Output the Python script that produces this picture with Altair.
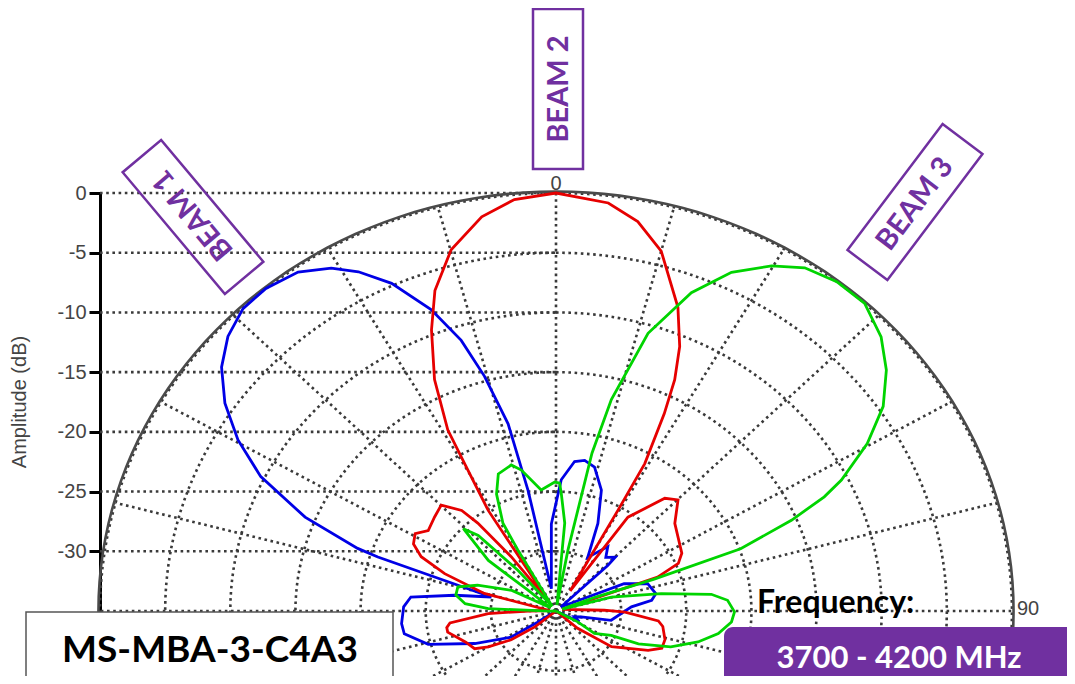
import altair as alt
import numpy as np
import pandas as pd

# ---------------- data ----------------
beam_names = ["BEAM 1", "BEAM 2", "BEAM 3"]
beam_colors = ["#0000e6", "#e60000", "#00d400"]

# angle in degrees (0 = boresight, positive clockwise), amplitude in dB
beam1_angle = [-180, -140, -123.7, -122.4, -113.6, -105.9, -99.3, -95.1, -88.3, -84.0,
               -80.4, -76.7, -71.7, -71.0, -67.8, -63.6, -59.6, -55.6, -51.5, -47.6,
               -43.5, -39.5, -34.9, -31.0, -28.1, -24.7, -20.8, -17.8, -15.6, -13.2,
               -12.0, -10.8, -2.8, 2.1, 6.5, 9.9, 13.8, 19.0, 23.7, 28.5,
               36.4, 40.4, 45.3, 46.2, 48.0, 66.4, 71.9, 79.3, 83.0, 86.6,
               100.4, 104.5, 109.0, 116.8, 125.0, 180]
beam1_db = [-35, -35, -33.3, -30.9, -28.2, -24.8, -23.2, -23.1, -23.3, -23.8,
            -27.1, -29.9, -20.6, -18.9, -14.2, -9.7, -6.7, -4.2, -2.2, -0.9,
            -0.1, 0.0, -0.4, -1.5, -2.8, -4.8, -8.0, -11.2, -14.6, -18.9,
            -24.7, -33.1, -27.7, -24.0, -22.4, -22.2, -22.6, -24.3, -27.0, -29.9,
            -28.3, -29.1, -28.6, -29.5, -34.5, -29.3, -27.6, -27.2, -27.6, -29.2,
            -30.7, -33.0, -33.5, -33.0, -35, -35]

beam2_angle = [-180, -140, -129.4, -125.0, -120.0, -116.8, -110.7, -102.0, -99.4, -97.0,
               -92.4, -90.0, -85.0, -75.0, -69.9, -66.3, -62.8, -59.1, -55.5, -49.8,
               -44.8, -40.7, -39.2, -37.1, -35.0, -31.7, -29.6, -28.7, -25.7, -22.1,
               -19.1, -14.9, -9.8, -5.3, 0.0, 6.7, 10.9, 15.0, 20.2, 23.2,
               25.2, 26.7, 28.9, 29.4, 33.0, 35.1, 41.5, 45.2, 51.2, 63.4,
               67.0, 70.0, 74.0, 89.0, 91.0, 96.0, 99.0, 106.0, 111.0, 115.0,
               125.0, 131.0, 140.0, 180]
beam2_db = [-35, -35, -32.9, -30.8, -29.0, -28.0, -27.6, -26.5, -26.5, -26.8,
            -29.8, -32.9, -34.5, -29.3, -25.9, -23.7, -22.7, -22.4, -23.1, -22.8,
            -22.5, -23.9, -25.5, -29.3, -34.0, -25.1, -20.8, -17.7, -13.5, -9.6,
            -6.6, -3.7, -1.5, -0.4, 0.0, -0.6, -1.8, -3.8, -7.9, -10.9,
            -13.6, -16.5, -20.9, -25.3, -33.0, -25.4, -22.4, -21.8, -23.3, -24.2,
            -24.8, -26.7, -34.5, -31.3, -29.7, -27.1, -26.7, -26.3, -26.3, -27.2,
            -29.8, -32.8, -35, -35]

beam3_angle = [-180, -92.0, -87.8, -85.0, -80.2, -75.0, -70.3, -63.1, -58.0, -51.0,
               -50.8, -45.9, -43.3, -40.6, -36.0, -29.8, -29.0, -25.0, -21.1, -15.7,
               -12.7, -6.4, -0.5, 1.5, 2.4, 5.2, 8.5, 10.2, 11.8, 13.5,
               16.9, 21.3, 25.4, 29.8, 33.6, 38.0, 42.6, 47.4, 51.5, 55.7,
               59.6, 63.4, 65.1, 67.2, 69.8, 70.5, 69.0, 72.0, 74.6, 79.8,
               83.3, 86.1, 90.3, 93.9, 98.6, 103.4, 108.8, 113.5, 115.7, 122.5,
               118.6, 130.0, 180]
beam3_db = [-35, -34.5, -29.8, -28.0, -27.2, -27.2, -28.6, -31.2, -34.5, -32.2,
            -28.3, -25.1, -26.3, -30.5, -34.5, -29.1, -26.6, -24.2, -22.7, -22.3,
            -22.9, -24.8, -24.2, -24.3, -25.2, -27.6, -34.5, -29.8, -21.5, -16.8,
            -10.7, -6.4, -3.6, -1.7, -0.5, 0.0, 0.0, -1.1, -2.6, -4.6,
            -7.3, -10.5, -12.3, -15.4, -19.9, -27.0, -31.8, -34.5, -30.6, -26.8,
            -23.0, -21.8, -21.3, -21.5, -22.4, -23.8, -25.7, -28.1, -30.3, -31.5,
            -33.1, -35, -35]

radial_ticks = [-30, -25, -20, -15, -10, -5, 0]
ring_levels = [-30, -25, -20, -15, -10, -5, 0]
spoke_angles = list(range(0, 360, 15))
angle_label_text = ["0", "90"]
angle_label_pos = [0, 90]

y_title = "Amplitude (dB)"
product_name = "MS-MBA-3-C4A3"
freq_title = "Frequency:"
freq_range = "3700 - 4200 MHz"

PURPLE = "#7030A0"
GRID = "#3a3a3a"

# ---------------- tables ----------------
frames = []
for name, ang, db in zip(beam_names, [beam1_angle, beam2_angle, beam3_angle],
                         [beam1_db, beam2_db, beam3_db]):
    assert len(ang) == len(db)
    frames.append(pd.DataFrame({"beam": name, "angle": ang, "db": db,
                                "order": range(len(ang))}))
curves = pd.concat(frames, ignore_index=True)

ring_angles = np.arange(0, 362, 2)
rings = pd.concat([pd.DataFrame({"ring": lvl, "angle": ring_angles, "db": lvl,
                                 "order": range(len(ring_angles))})
                   for lvl in ring_levels], ignore_index=True)
outer = pd.DataFrame({"angle": ring_angles, "db": 0.12, "order": range(len(ring_angles))})
spokes = pd.DataFrame({"angle": spoke_angles, "db": 0})
hgrid = pd.DataFrame({"level": radial_ticks})
alabels = pd.DataFrame({"angle": angle_label_pos, "db": 0, "label": angle_label_text})
one = pd.DataFrame({"k": [0]})

# ---------------- encodings ----------------
xscale = alt.Scale(domain=[-35, 35], nice=False, zero=False)
yscale = alt.Scale(domain=[-35, 0], nice=False, zero=False)
yaxis = alt.Axis(values=radial_ticks, labelExpr="datum.value + ''", grid=False,
                 domainColor="black", domainWidth=3, tickColor="black", tickWidth=3,
                 tickSize=11, labelFont="Liberation Sans", labelFontSize=20,
                 labelColor="#444444", labelPadding=3, title=None)
X = alt.X("px:Q", scale=xscale, axis=None)
Y = alt.Y("py:Q", scale=yscale, axis=yaxis)


def polar(ch):
    return ch.transform_calculate(
        r="max(datum.db + 35, 0)"
    ).transform_calculate(
        px="datum.r * sin(datum.angle * PI / 180)",
        py="datum.r * cos(datum.angle * PI / 180) - 35",
    )


dotted = dict(color=GRID, strokeWidth=2.6, strokeDash=[2.6, 3.6])

ring_layer = polar(alt.Chart(rings).mark_line(**dotted)).encode(
    x=X, y=Y, detail="ring:N", order="order:Q")
outer_layer = polar(alt.Chart(outer).mark_line(color="#4a4a4a", strokeWidth=2.6)).encode(
    x=X, y=Y, order="order:Q")
spoke_layer = alt.Chart(spokes).mark_rule(**dotted).transform_calculate(
    px="0", py="-35",
    px2="35 * sin(datum.angle * PI / 180)",
    py2="35 * cos(datum.angle * PI / 180) - 35",
).encode(x=X, y=Y, x2="px2:Q", y2="py2:Q")
hgrid_layer = alt.Chart(hgrid).mark_rule(**dotted).transform_calculate(
    px="-35", px2="0", py="datum.level"
).encode(x=X, y=Y, x2="px2:Q")

curve_layer = polar(alt.Chart(curves).mark_line(strokeWidth=2.8)).encode(
    x=X, y=Y,
    color=alt.Color("beam:N", scale=alt.Scale(domain=beam_names, range=beam_colors),
                    legend=None),
    order="order:Q",
)

alabel_layer = polar(alt.Chart(alabels[alabels.angle == 0]).mark_text(
    font="Liberation Sans", fontSize=20, color="#444444", align="center",
    baseline="alphabetic", dy=-3)).encode(x=X, y=Y, text="label:N")
alabel90_layer = polar(alt.Chart(alabels[alabels.angle == 90]).mark_text(
    font="Liberation Sans", fontSize=20, color="#444444", align="left",
    baseline="middle", dx=5, dy=-2)).encode(x=X, y=Y, text="label:N")

ytitle_layer = alt.Chart(one).mark_text(
    text=y_title, font="Liberation Sans", fontSize=20, color="#444444", angle=270,
    align="center", baseline="middle").encode(x=alt.value(-80), y=alt.value(209))

box_path = "M-1,-0.316L1,-0.316L1,0.316L-1,0.316Z"
beam_font = dict(font="Lato", fontWeight="bold", fontSize=29, color=PURPLE,
                 align="center", baseline="middle")

beam1_box = alt.Chart(one).mark_point(
    shape=box_path, size=159 * 159, angle=50, filled=False, color=PURPLE,
    strokeWidth=2.5, opacity=1).encode(x=alt.value(93), y=alt.value(24))
beam1_txt = alt.Chart(one).mark_text(text=beam_names[0], angle=230, **beam_font).encode(
    x=alt.value(93), y=alt.value(22))

beam2_box = alt.Chart(one).mark_rect(
    stroke=PURPLE, strokeWidth=2.5, fillOpacity=0).encode(
    x=alt.value(433), x2=alt.value(483), y=alt.value(-184), y2=alt.value(-24))
beam2_txt = alt.Chart(one).mark_text(text=beam_names[1], angle=270, **beam_font).encode(
    x=alt.value(459), y=alt.value(-104))

beam3_box = alt.Chart(one).mark_point(
    shape=box_path, size=158 * 158, angle=307, filled=False, color=PURPLE,
    strokeWidth=2.5, opacity=1).encode(x=alt.value(815), y=alt.value(9))
beam3_txt = alt.Chart(one).mark_text(text=beam_names[2], angle=307, **beam_font).encode(
    x=alt.value(815), y=alt.value(11))

prod_box = alt.Chart(one).mark_rect(fill="white", stroke="#555555", strokeWidth=1.5).encode(
    x=alt.value(-74), x2=alt.value(293), y=alt.value(419), y2=alt.value(520))
prod_txt = alt.Chart(one).mark_text(
    text=product_name, font="Lato", fontWeight="bold", fontSize=37, color="black",
    align="center", baseline="alphabetic").encode(x=alt.value(110), y=alt.value(469))

freq_txt = alt.Chart(one).mark_text(
    text=freq_title, font="Lato", fontWeight="bold", fontSize=32, color="black",
    align="left", baseline="alphabetic").encode(x=alt.value(657), y=alt.value(420))
freq_box = alt.Chart(one).mark_rect(fill=PURPLE, cornerRadius=9).encode(
    x=alt.value(624), x2=alt.value(1000), y=alt.value(434), y2=alt.value(520))
freq_val = alt.Chart(one).mark_text(
    text=freq_range, font="Lato", fontWeight="bold", fontSize=31, color="white",
    align="center", baseline="alphabetic").encode(x=alt.value(799), y=alt.value(475))

chart = alt.layer(
    ring_layer, spoke_layer, hgrid_layer, outer_layer, curve_layer,
    alabel_layer, alabel90_layer, ytitle_layer,
    beam1_box, beam1_txt, beam2_box, beam2_txt, beam3_box, beam3_txt,
    prod_box, prod_txt, freq_txt, freq_box, freq_val,
).properties(
    width=912, height=418,
    padding={"left": 92, "top": 185, "right": 55, "bottom": 65},
    autosize=alt.AutoSizeParams(type="none"),
    background="white",
).configure_view(stroke=None)

chart.save("out.html", embed_options={"renderer": "svg", "actions": False})
